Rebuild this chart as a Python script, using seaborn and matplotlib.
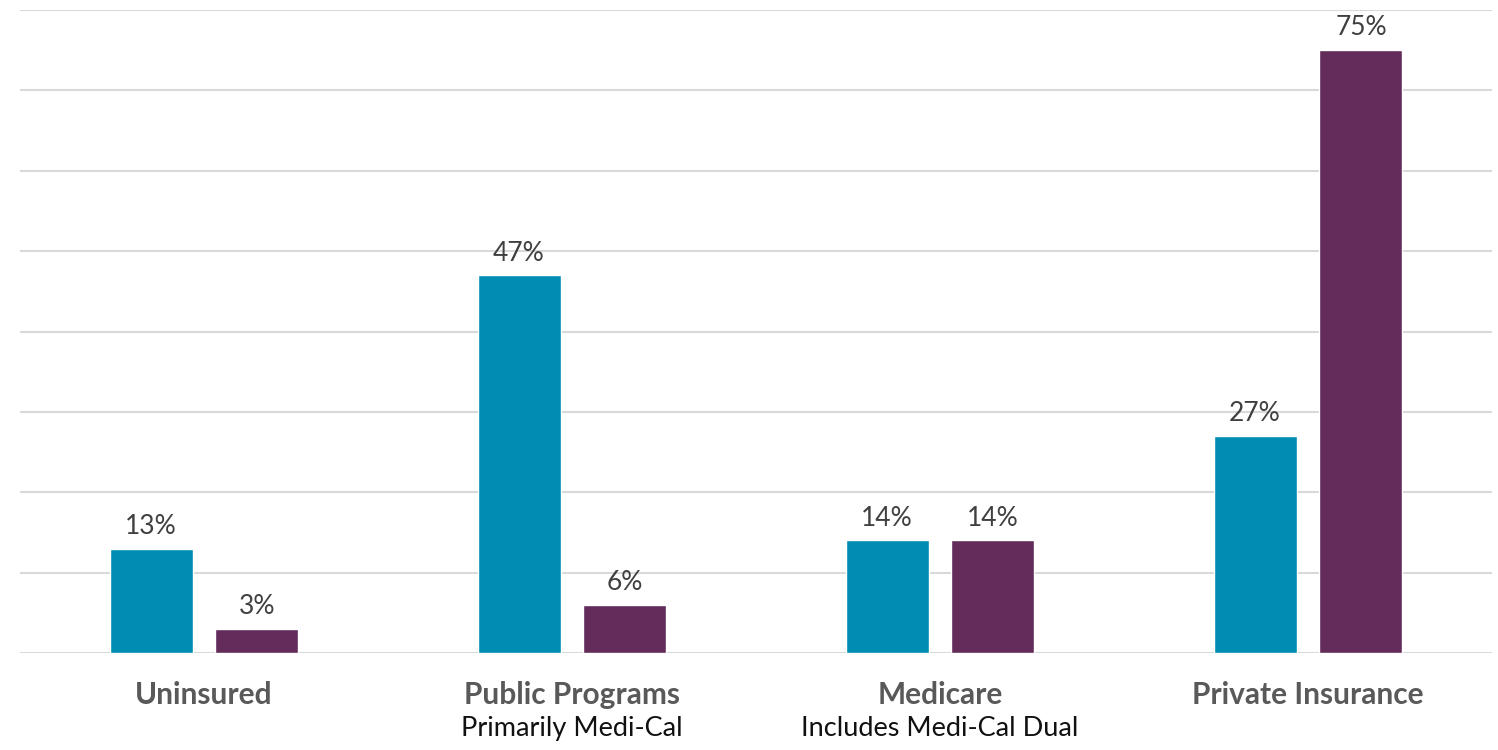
import matplotlib
matplotlib.use("Agg")
import matplotlib.pyplot as plt
import matplotlib.transforms as mtransforms
import seaborn as sns
import pandas as pd

categories = ["Uninsured", "Public Programs", "Medicare", "Private Insurance"]
subtitles = ["", "Primarily Medi-Cal", "Includes Medi-Cal Dual", ""]
series_names = ["Group 1", "Group 2"]
group1 = [13, 47, 14, 27]
group2 = [3, 6, 14, 75]

df = pd.DataFrame({
    "category": categories * 2,
    "group": [series_names[0]] * 4 + [series_names[1]] * 4,
    "value": group1 + group2,
})

sns.set_theme(style="white")
plt.rcParams["font.family"] = ["Lato", "DejaVu Sans"]

fig = plt.figure(figsize=(14.98, 7.5), dpi=100)
ax = fig.add_axes([20 / 1498, 97 / 750, 1472 / 1498, 643 / 750])

sns.barplot(data=df, x="category", y="value", hue="group", order=categories,
            palette=["#018db3", "#632c5b"], saturation=1, width=0.576, gap=0.217,
            legend=False, ax=ax)

for c in ax.containers:
    ax.bar_label(c, fmt="%d%%", padding=7, fontsize=19, color="#404040")

ax.set_xlim(-0.5, 3.5)
ax.set_ylim(0, 80)
ax.set_yticks(range(0, 81, 10))
ax.set_yticklabels([])
ax.tick_params(axis="y", length=0)
ax.tick_params(axis="x", length=0, pad=20)
ax.yaxis.grid(True, color="#d9d9d9", linewidth=1.5)
ax.set_axisbelow(True)
for s in ax.spines.values():
    s.set_visible(False)

ax.set_xlabel("")
ax.set_ylabel("")
ax.set_xticks(range(len(categories)))
ax.set_xticklabels(categories, fontsize=21.5, fontweight="bold", color="#595959")

trans = mtransforms.blended_transform_factory(ax.transData, ax.transAxes)
for i, sub in enumerate(subtitles):
    if sub:
        ax.text(i, -0.117, sub, transform=trans, ha="center", va="center",
                fontsize=19.5, color="#111111")

fig.savefig("out.png", dpi=100)
